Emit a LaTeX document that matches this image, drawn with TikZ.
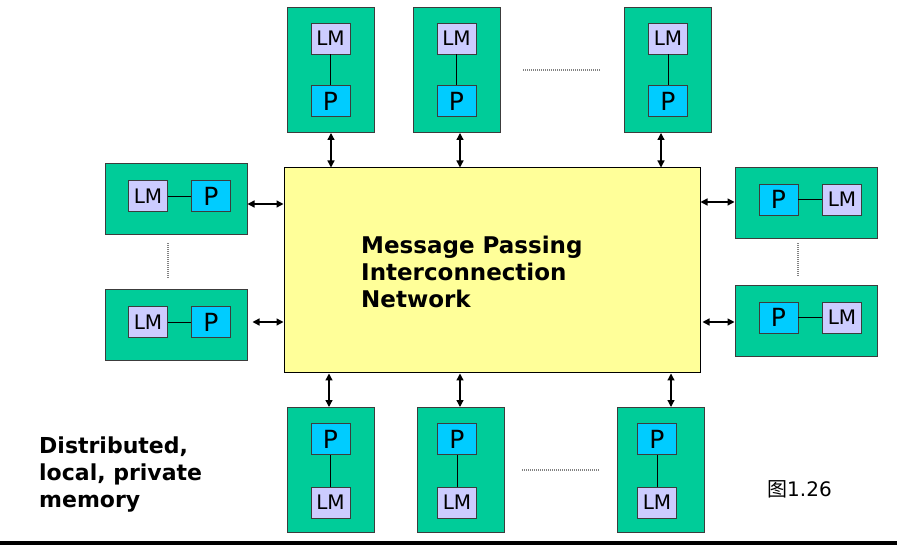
\documentclass[tikz,border=0pt]{standalone}
\usepackage{fontspec}
\setmainfont{DejaVu Sans}
\newfontfamily\cjkfont{Noto Sans CJK SC}
\usetikzlibrary{arrows.meta}
\definecolor{gbox}{RGB}{0,204,153}
\definecolor{lmfill}{RGB}{204,204,255}
\definecolor{pfill}{RGB}{0,204,255}
\definecolor{netfill}{RGB}{255,255,153}
\definecolor{edgegray}{RGB}{60,60,60}
\definecolor{dotgray}{RGB}{130,130,130}
\tikzset{
  pev/.style={draw=edgegray, fill=gbox, line width=1pt, inner sep=0pt, minimum width=87pt, minimum height=125pt},
  peh/.style={draw=edgegray, fill=gbox, line width=1pt, inner sep=0pt, minimum width=142pt, minimum height=71pt},
  lmbox/.style={draw=edgegray, fill=lmfill, line width=0.8pt, inner sep=0pt, minimum width=39pt, minimum height=31pt, font=\fontsize{20}{20}\selectfont},
  pbox/.style={draw=edgegray, fill=pfill, line width=0.8pt, inner sep=0pt, minimum width=39pt, minimum height=31pt, font=\fontsize{25}{25}\selectfont},
  netbox/.style={draw=black, fill=netfill, line width=1pt, inner sep=0pt, minimum width=416pt, minimum height=205pt},
  link/.style={line width=1.3pt, {Triangle[length=7pt,width=7pt]}-{Triangle[length=7pt,width=7pt]}},
  conn/.style={line width=0.8pt, black},
  dots/.style={dotgray, line width=1.2pt, dash pattern=on 1pt off 1pt},
  bigtxt/.style={anchor=base west, inner sep=0pt, font=\bfseries\fontsize{23}{27}\selectfont},
  sidetxt/.style={anchor=base west, inner sep=0pt, font=\bfseries\fontsize{22}{27}\selectfont}
}
\begin{document}
\begin{tikzpicture}[x=1pt,y=-1pt]
\useasboundingbox (0,0) rectangle (900,545);
% network
\node[netbox] (net) at (492,270.5) {};
\node[bigtxt] (m1) at (361,254) {Message Passing};
\node[bigtxt] (m2) at (361,281) {Interconnection};
\node[bigtxt] (m3) at (361,308) {Network};
% top PEs
\node[pev] (t1) at (330.5,70) {};
\node[lmbox] (t1lm) at (330.5,38.5) {LM};
\node[pbox] (t1p) at (330.5,101) {P};
\node[pev] (t2) at (456.5,70) {};
\node[lmbox] (t2lm) at (456.5,38.5) {LM};
\node[pbox] (t2p) at (456.5,101) {P};
\node[pev] (t3) at (668,70) {};
\node[lmbox] (t3lm) at (668,38.5) {LM};
\node[pbox] (t3p) at (668,101) {P};
\draw[conn] (t1lm) -- (t1p);
\draw[conn] (t2lm) -- (t2p);
\draw[conn] (t3lm) -- (t3p);
\draw[link] ([xshift=0.5pt]t1.south) -- ([xshift=0.5pt]t1.south |- net.north);
\draw[link] ([xshift=3.5pt]t2.south) -- ([xshift=3.5pt]t2.south |- net.north);
\draw[link] ([xshift=-7pt]t3.south) -- ([xshift=-7pt]t3.south |- net.north);
% left PEs
\node[peh] (l1) at (176,199.5) {};
\node[lmbox] (l1lm) at (148,196) {LM};
\node[pbox] (l1p) at (211,196) {P};
\node[peh] (l2) at (176,325) {};
\node[lmbox] (l2lm) at (148,322) {LM};
\node[pbox] (l2p) at (211,322) {P};
\draw[conn] (l1lm) -- (l1p);
\draw[conn] (l2lm) -- (l2p);
\draw[link] ([yshift=-4.5pt]l1.east) -- ([yshift=-4.5pt]l1.east -| net.west);
\draw[link] ([yshift=3pt,xshift=5pt]l2.east) -- ([yshift=3pt]l2.east -| net.west);
% right PEs
\node[peh] (r1) at (806,203.5) {};
\node[pbox] (r1p) at (778.5,199.5) {P};
\node[lmbox] (r1lm) at (842,199.5) {LM};
\node[peh] (r2) at (806,321) {};
\node[pbox] (r2p) at (778.5,317.5) {P};
\node[lmbox] (r2lm) at (842,317.5) {LM};
\draw[conn] (r1p) -- (r1lm);
\draw[conn] (r2p) -- (r2lm);
\draw[link] ([yshift=1.5pt]r1.west -| net.east) -- ([yshift=1.5pt]r1.west);
\draw[link] ([yshift=-1pt,xshift=2pt]r2.west -| net.east) -- ([yshift=-1pt]r2.west);
% bottom PEs
\node[pev] (b1) at (330.5,470) {};
\node[pbox] (b1p) at (330.5,439) {P};
\node[lmbox] (b1lm) at (330.5,502.5) {LM};
\node[pev] (b2) at (460.5,470) {};
\node[pbox] (b2p) at (457,439) {P};
\node[lmbox] (b2lm) at (457,502.5) {LM};
\node[pev] (b3) at (660.5,470) {};
\node[pbox] (b3p) at (657,439) {P};
\node[lmbox] (b3lm) at (657,502.5) {LM};
\draw[conn] (b1p) -- (b1lm);
\draw[conn] (b2p) -- (b2lm);
\draw[conn] (b3p) -- (b3lm);
\draw[link] ([xshift=-1.5pt]b1.north |- net.south) -- ([xshift=-1.5pt]b1.north);
\draw[link] ([xshift=-0.5pt]b2.north |- net.south) -- ([xshift=-0.5pt]b2.north);
\draw[link] ([xshift=10.5pt]b3.north |- net.south) -- ([xshift=10.5pt]b3.north);
% ellipsis dots
\coordinate (dt1) at (523,70); \coordinate (dt2) at (601,70);
\coordinate (db1) at (522,470); \coordinate (db2) at (600,470);
\coordinate (dl1) at (168,243); \coordinate (dl2) at (168,278);
\coordinate (dr1) at (798,243); \coordinate (dr2) at (798,277);
\draw[dots] (dt1) -- (dt2);
\draw[dots] (db1) -- (db2);
\draw[dots] (dl1) -- (dl2);
\draw[dots] (dr1) -- (dr2);
% texts
\node[sidetxt] (s1) at (39,453) {Distributed,};
\node[sidetxt] (s2) at (39,480) {local, private};
\node[sidetxt] (s3) at (39,507) {memory};
\node[anchor=base west, inner sep=0pt, font=\fontsize{20}{20}\selectfont] (fig) at (767,496) {{\cjkfont 图}1.26};
% bottom rule
\coordinate (rl) at (0,542.5); \coordinate (rr) at (897,542.5);
\draw[line width=4pt] (rl) -- (rr);
\end{tikzpicture}
\end{document}
